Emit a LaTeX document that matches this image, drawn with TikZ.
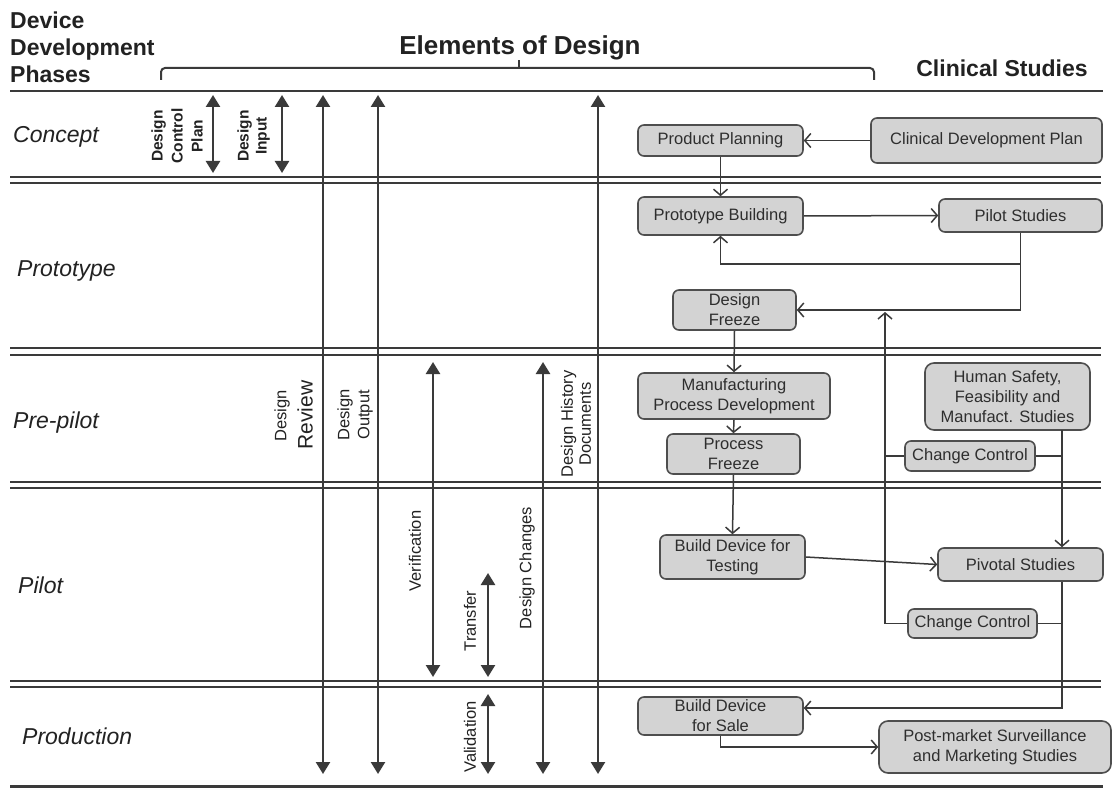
\documentclass[tikz,border=0pt]{standalone}
\usepackage{fontspec}
\setmainfont{Liberation Sans}
\usetikzlibrary{arrows.meta}
\definecolor{ink}{HTML}{3A3A3A}
\definecolor{boxfill}{HTML}{D3D3D3}
\definecolor{boxline}{HTML}{4E4E4E}
\definecolor{boxtext}{HTML}{2E2E2E}
\definecolor{labtext}{HTML}{222222}

\begin{document}
\begin{tikzpicture}[x=1pt,y=-1pt,
  sep/.style={draw=ink,line width=2pt},
  elem/.style={draw=ink,line width=2.4pt,
    {Triangle[length=12pt,width=14pt]}-{Triangle[length=12pt,width=14pt]}},
  lab/.style={rotate=90,align=center,text=labtext,inner sep=0pt,
    font=\fontsize{16.5}{20}\selectfont},
  box/.style={draw=boxline,fill=boxfill,rounded corners=6pt,line width=1.6pt,
    text=boxtext,align=center,inner sep=0pt,font=\fontsize{16.5}{20}\selectfont},
  flow/.style={draw=ink,line width=1.5pt,
    -{Straight Barb[length=6pt,width=14pt,line width=1.5pt]}},
  link/.style={draw=ink,line width=1.5pt},
  phase/.style={anchor=base west,inner sep=0pt,text=labtext,
    font=\fontsize{23}{27}\selectfont\itshape},
  head/.style={inner sep=0pt,text=labtext,font=\fontsize{23}{27}\selectfont\bfseries}
]
\useasboundingbox[fill=white] (0,0) rectangle (1117,789);

% ---------- headings ----------
\node[head,anchor=base west] (t1) at (10,29) {Device};
\node[head,anchor=base west] (t2) at (10,56) {Development};
\node[head,anchor=base west] (t3) at (10,83) {Phases};
\node[head,anchor=base,font=\fontsize{26}{30}\selectfont\bfseries] (elem) at (520,55) {Elements of Design};
\node[head,anchor=base] (clin) at (1002,77) {Clinical Studies};

% brace under "Elements of Design"
\draw[ink,line width=2pt,rounded corners=4pt] (161,80) -- (161,68) -- (874,68) -- (874,80);
\draw[ink,line width=2pt] (519,68) -- (519,60);

% ---------- phase separators ----------
\draw[sep,line width=2.5pt] (10,91) -- (1103,91);
\foreach \ya/\yb in {177/183, 348/355, 481.5/488, 681/687}{
  \draw[sep] (10,\ya) -- (1101,\ya);
  \draw[sep] (10,\yb) -- (1101,\yb);
}
\draw[sep,line width=2.5pt] (10,786.5) -- (1103,786.5);

% ---------- phase names ----------
\node[phase] (concept) at (13,143) {Concept};
\node[phase] (proto) at (17,276) {Prototype};
\node[phase] (prepilot) at (13,428) {Pre-pilot};
\node[phase] (pilot) at (18,593) {Pilot};
\node[phase] (prod) at (22,744) {Production};

% ---------- elements of design ----------
\coordinate (dcpA) at (213,95);   \coordinate (dcpB) at (213,173);
\coordinate (dinA) at (282,95);   \coordinate (dinB) at (282,173);
\coordinate (revA) at (323,95);   \coordinate (revB) at (323,774);
\coordinate (outA) at (378,95);   \coordinate (outB) at (378,774);
\coordinate (verA) at (433,362);  \coordinate (verB) at (433,677);
\coordinate (traA) at (488,573);  \coordinate (traB) at (488,677);
\coordinate (valA) at (488,694);  \coordinate (valB) at (488,774);
\coordinate (chgA) at (543,362);  \coordinate (chgB) at (543,774);
\coordinate (dhdA) at (598,95);   \coordinate (dhdB) at (598,774);
\foreach \e in {dcp,din,rev,out,ver,tra,val,chg,dhd}{
  \draw[elem] (\e A) -- (\e B);
}

\node[lab,font=\fontsize{15.5}{20}\selectfont\bfseries] (ldcp) at (177,136) {Design\\Control\\Plan};
\node[lab,font=\fontsize{15.5}{18}\selectfont\bfseries] (ldin) at (253.5,136) {Design\\Input};
\node[lab] (lrev1) at (282,416) {Design};
\node[lab,font=\fontsize{21}{24}\selectfont] (lrev2) at (305,415) {Review};
\node[lab] (lout) at (355,415) {Design\\Output};
\node[lab] (lver) at (415,551) {Verification};
\node[lab] (ltra) at (470,621) {Transfer};
\node[lab] (lval) at (470,737) {Validation};
\node[lab] (lchg) at (527,568) {Design Changes};
\node[lab,font=\fontsize{16.5}{18}\selectfont] (ldhd) at (576,424) {Design History\\Documents};

% ---------- process and clinical boxes ----------
\node[box,minimum width=165pt,minimum height=31pt] (pp) at (720.5,140.5) {Product Planning};
\node[box,minimum width=231pt,minimum height=45pt] (cdp) at (986.5,140.5) {Clinical Development Plan};
\node[box,minimum width=165pt,minimum height=38pt] (pb) at (720.5,216) {Prototype Building};
\node[box,minimum width=163pt,minimum height=33pt] (ps) at (1020.5,215.5) {Pilot Studies};
\node[box,minimum width=123pt,minimum height=40pt] (df) at (734.5,310) {Design\\Freeze};
\node[box,minimum width=192pt,minimum height=46pt] (mpd) at (734,396) {Manufacturing\\Process Development};
\node[box,minimum width=133pt,minimum height=40pt] (pf) at (733.5,454) {Process\\Freeze};
\node[box,minimum width=165pt,minimum height=67pt,rounded corners=9pt] (hs) at (1007.5,396.5) {Human Safety,\\Feasibility and\\Manufact. Studies};
\node[box,minimum width=130pt,minimum height=30pt] (cc1) at (970,456) {Change Control};
\node[box,minimum width=145pt,minimum height=44pt] (bdt) at (732.5,557) {Build Device for\\Testing};
\node[box,minimum width=165pt,minimum height=33pt] (pv) at (1020.5,564.5) {Pivotal Studies};
\node[box,minimum width=129pt,minimum height=29pt] (cc2) at (972.5,623.5) {Change Control};
\node[box,minimum width=165pt,minimum height=38pt] (bds) at (720.5,716) {Build Device\\for Sale};
\node[box,minimum width=232pt,minimum height=52pt,rounded corners=9pt] (pm) at (995,747) {Post-market Surveillance\\and Marketing Studies};

% ---------- connectors ----------
\draw[flow] (cdp.west) -- (pp.east);
\draw[flow] (pp.south) -- (pb.north);
\draw[flow] (pb.east) -- (ps.west);
\draw[flow] (ps.south) |- (df.east);
\coordinate (j1) at (1020.5,264);
\draw[flow] (j1) -| (pb.south);
\draw[flow] (df.south) -- (mpd.north);
\draw[flow] (mpd.south) -- (pf.north);
\draw[flow] (pf.south) -- (bdt.north);
\draw[flow] (bdt.east) -- (pv.west);

% change-control loop back to the design freeze
\coordinate (cctop) at (885,312);
\draw[flow] (cc2.west) -| (cctop);
\draw[link] (cc1.west) -- (cc1.west -| cctop);

% right-hand rail of the clinical studies
\coordinate (rail) at (1062,430);
\draw[flow] (rail) -- (pv.north -| rail);
\draw[link] (cc1.east) -- (cc1.east -| rail);
\draw[link] (cc2.east) -- (cc2.east -| rail);
\draw[flow] (pv.south -| rail) |- ([yshift=8pt]bds.east);
\draw[flow] (bds.south) |- (pm.west);

\end{tikzpicture}
\end{document}
